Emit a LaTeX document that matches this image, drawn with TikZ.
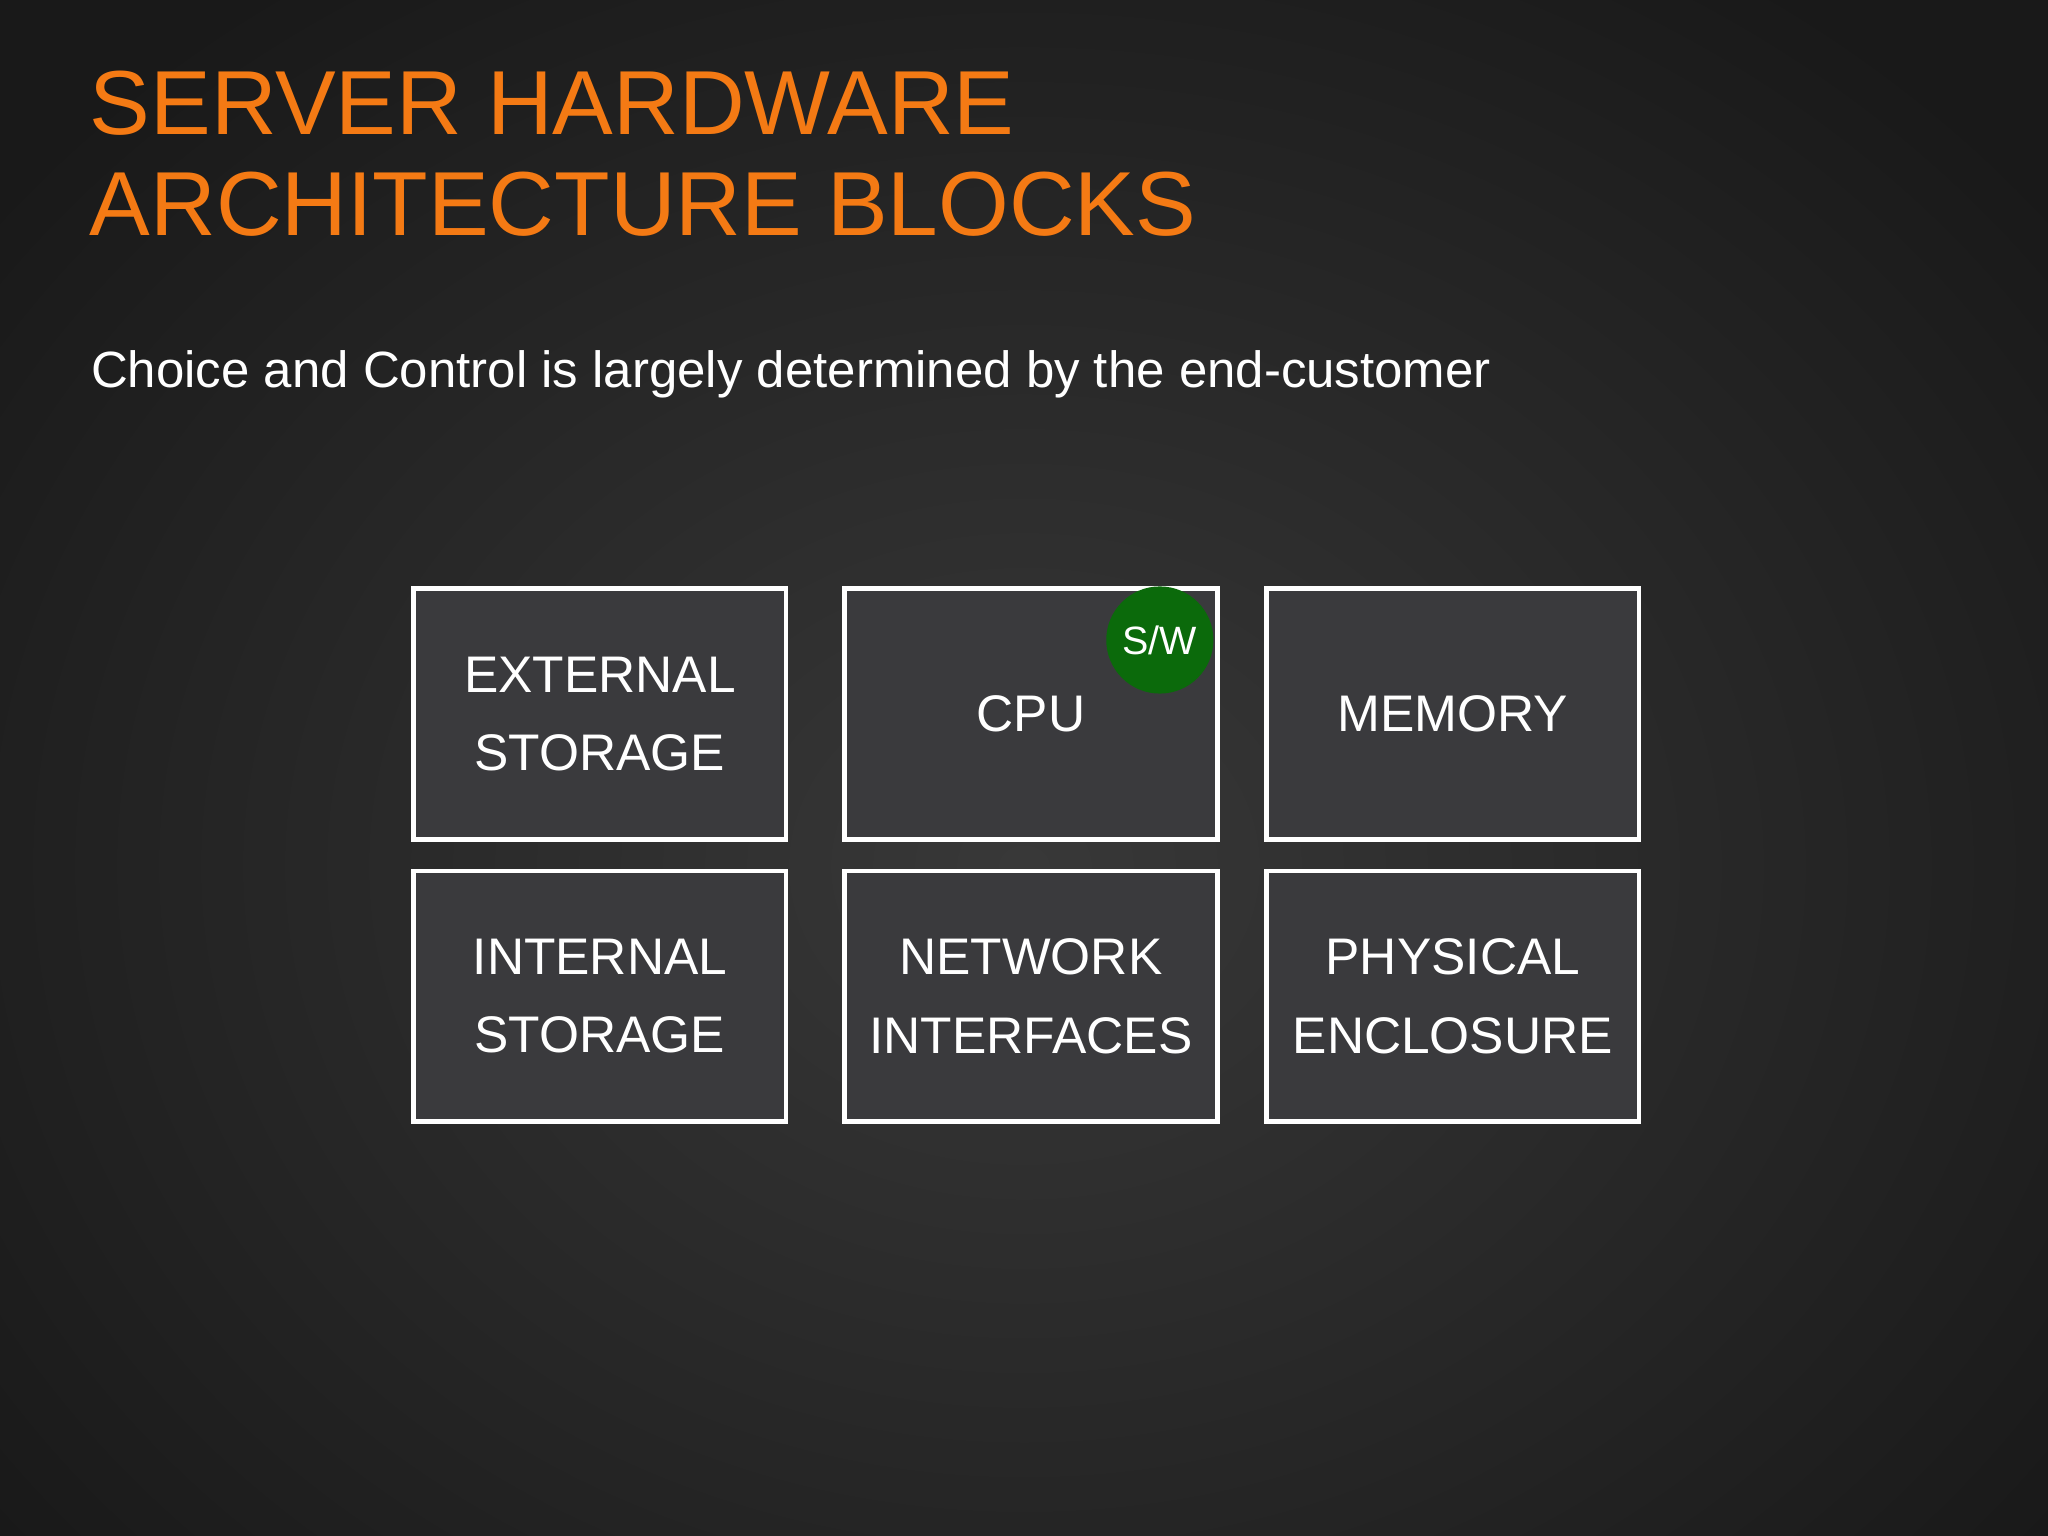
\documentclass[tikz,border=0pt]{standalone}
\usepackage{fontspec}
\setmainfont{Liberation Sans}
\definecolor{ttl}{HTML}{F47A14}
\definecolor{boxfill}{HTML}{3A3A3D}
\definecolor{swg}{HTML}{0B6A0B}
\begin{document}
\begin{tikzpicture}[x=0.01cm,y=-0.01cm,
  blk/.style={draw=white,line width=1pt,fill=boxfill,minimum width=2.85cm,minimum height=1.92cm,anchor=north west,inner sep=0pt},
  btxt/.style={text=white,font=\fontsize{11.2}{17}\selectfont,align=center}]
\useasboundingbox (0,0) rectangle (1568,1176);
\begin{scope}
\clip (0,0) rectangle (1568,1176);
\shade[inner color=black!78,outer color=black!90] (-200,-150) rectangle (1768,1476);
\end{scope}
\node[anchor=base west,inner sep=0,text=ttl,font=\fontsize{19.8}{24}\selectfont] (t1) at (68,103) {SERVER HARDWARE};
\node[anchor=base west,inner sep=0,text=ttl,font=\fontsize{19.8}{24}\selectfont] (t2) at (68,180) {ARCHITECTURE BLOCKS};
\node[anchor=base west,inner sep=0,text=white,font=\fontsize{11.1}{13}\selectfont] (st) at (69,297) {Choice and Control is largely determined by the end-customer};
\node[blk] (es) at (315,449) {}; \node[btxt] at (es.center) {EXTERNAL\\STORAGE};
\node[blk] (cpu) at (645,449) {}; \node[btxt] at (cpu.center) {CPU};
\node[blk] (mem) at (968,449) {}; \node[btxt] at (mem.center) {MEMORY};
\node[blk] (is) at (315,665) {}; \node[btxt] at (is.center) {INTERNAL\\STORAGE};
\node[blk] (ni) at (645,665) {}; \node[btxt] at (ni.center) {NETWORK\\INTERFACES};
\node[blk] (pe) at (968,665) {}; \node[btxt] at (pe.center) {PHYSICAL\\ENCLOSURE};
\node[circle,fill=swg,minimum size=0.82cm,inner sep=0,text=white,font=\fontsize{8.6}{11}\selectfont] (sw) at (888,490) {S/W};
\end{tikzpicture}
\end{document}
